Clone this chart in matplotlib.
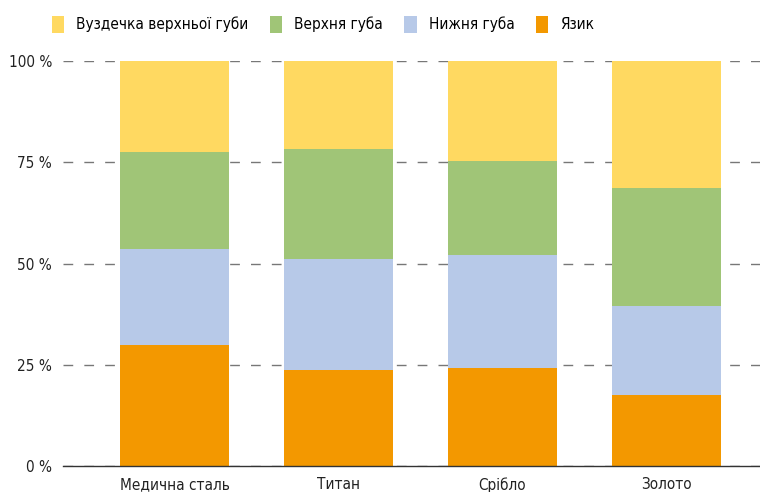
import matplotlib.pyplot as plt
import numpy as np

plt.rcParams['font.family'] = ['DejaVu Sans']
plt.rcParams['font.stretch'] = 'condensed'

# дані (відсотки, знизу вгору)
categories = ['Медична сталь', 'Титан', 'Срібло', 'Золото']
series_names = ['Язик', 'Нижня губа', 'Верхня губа', 'Вуздечка верхньої губи']
yazyk = [29.8, 23.8, 24.1, 17.6]
nyzhnya = [23.9, 27.3, 27.9, 21.8]
verkhnya = [23.8, 27.1, 23.3, 29.2]
vuzdechka = [22.5, 21.8, 24.7, 31.4]
colors = ['#F39800', '#B7C9E8', '#A0C577', '#FFD961']

fig = plt.figure(figsize=(7.6, 4.92), dpi=100)
ax = fig.add_axes([63 / 760, 26 / 492, (760 - 63) / 760, 405 / 492])

x = np.arange(len(categories))
bottom = np.zeros(len(categories))
handles = []
for name, vals, c in zip(series_names, [yazyk, nyzhnya, verkhnya, vuzdechka], colors):
    h = ax.bar(x, vals, bottom=bottom, width=0.66, color=c, label=name, zorder=2)
    handles.append(h)
    bottom += np.array(vals)

ax.set_xlim(-0.68, 3.57)
ax.set_ylim(0, 100)
ax.set_yticks([0, 25, 50, 75, 100])
ax.set_yticklabels(['0 %', '25 %', '50 %', '75 %', '100 %'], fontsize=11, color='#222222')
ax.set_xticks(x)
ax.set_xticklabels(categories, fontsize=11, color='#222222')
ax.tick_params(axis='both', length=0)
ax.tick_params(axis='y', pad=8)
ax.tick_params(axis='x', pad=8)

ax.yaxis.grid(True, linestyle=(0, (7, 8)), color='#777777', linewidth=1, zorder=0)
ax.set_axisbelow(True)
for s in ['left', 'right', 'top']:
    ax.spines[s].set_visible(False)
ax.spines['bottom'].set_color('#333333')
ax.spines['bottom'].set_linewidth(1)
ax.spines['bottom'].set_zorder(3)

# легенда у зворотному порядку
fig.legend(handles[::-1], series_names[::-1], loc='upper left', bbox_to_anchor=(0.047, 1.0),
           ncol=4, frameon=False, fontsize=11, handlelength=0.8, handleheight=1.3,
           handletextpad=0.8, columnspacing=1.4, borderaxespad=0.65)

fig.savefig('out.png', dpi=100)
